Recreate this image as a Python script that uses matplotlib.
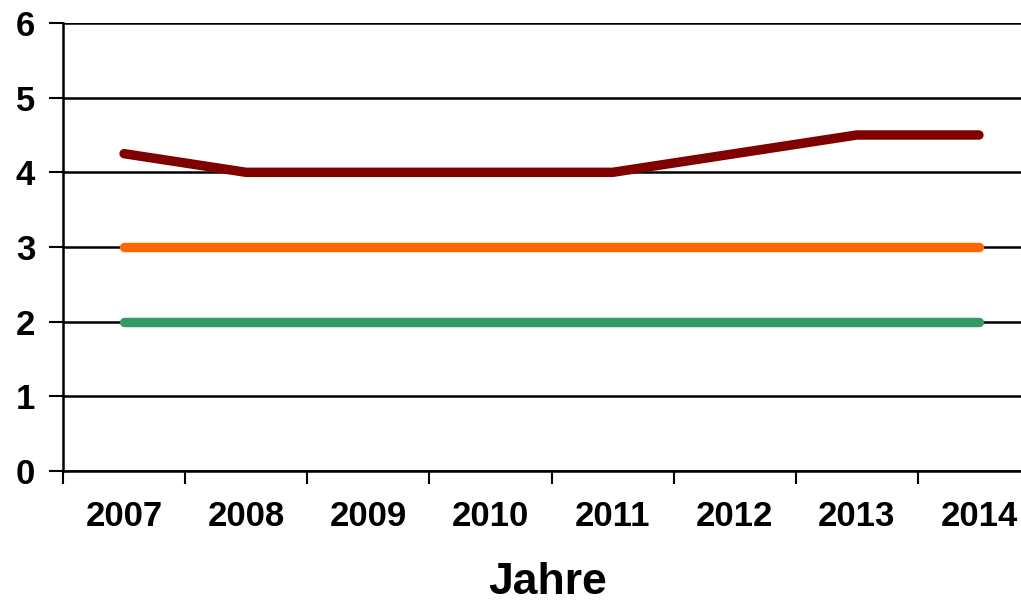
import matplotlib
matplotlib.use("Agg")
import matplotlib.pyplot as plt
import numpy as np

years = ["2007", "2008", "2009", "2010", "2011", "2012", "2013", "2014"]
series_red = [4.25, 4.0, 4.0, 4.0, 4.0, 4.25, 4.5, 4.5]
series_orange = [3, 3, 3, 3, 3, 3, 3, 3]
series_green = [2, 2, 2, 2, 2, 2, 2, 2]
yticks = [0, 1, 2, 3, 4, 5, 6]

plt.rcParams['font.family'] = ['Liberation Sans', 'DejaVu Sans']

fig = plt.figure(figsize=(10.21, 6.05), dpi=100)
ax = fig.add_axes([63/1021, 1 - 471/605, (1040 - 63)/1021, (471 - 23)/605])

x = np.arange(len(years))
ax.plot(x, series_green, color="#339966", lw=6.8, solid_capstyle='round', zorder=3)
ax.plot(x, series_orange, color="#FF6600", lw=6.8, solid_capstyle='round', zorder=3)
ax.plot(x, series_red, color="#800000", lw=6.8, solid_capstyle='round', zorder=4)

ax.set_xlim(-0.5, len(years) - 0.5)
ax.set_ylim(0, 6)
ax.set_yticks(yticks)
ax.set_yticklabels([str(v) for v in yticks], fontsize=25, fontweight='bold')
ax.set_xticks(x)
ax.set_xticklabels(years, fontsize=25, fontweight='bold')
ax.set_xticks(np.arange(-0.5, len(years) + 0.5, 1), minor=True)
ax.tick_params(axis='x', which='major', length=0, pad=21)
ax.tick_params(axis='x', which='minor', length=9, width=1.5, direction='out')
ax.tick_params(axis='y', which='major', length=10, width=1.5, direction='out', pad=10)

ax.grid(axis='y', color='black', lw=1.8, zorder=1)
for s in ['top', 'right']:
    ax.spines[s].set_visible(False)
ax.spines['left'].set_linewidth(1.8)
ax.spines['bottom'].set_linewidth(1.8)

ax.set_xlabel("Jahre", fontsize=32, fontweight='bold', va='center')
ax.xaxis.set_label_coords((548 - 63) / (1040 - 63), -(583 - 471) / (471 - 23))

fig.savefig("out.png", dpi=100)
